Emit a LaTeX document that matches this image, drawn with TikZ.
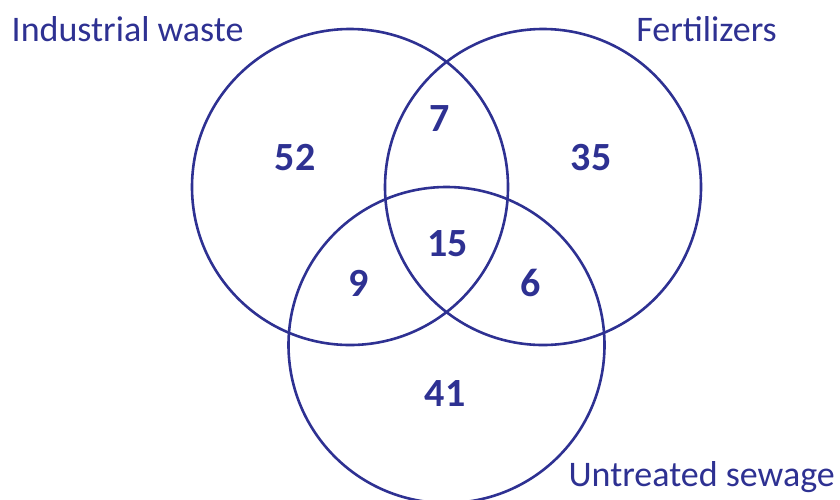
\documentclass[tikz,border=0pt]{standalone}
\usepackage{fontspec}
\setmainfont{Carlito}
\definecolor{venn}{RGB}{46,49,146}
\begin{document}
\begin{tikzpicture}[x=1pt,y=-1pt,
  ring/.style={draw=venn,line width=2.6pt},
  setlabel/.style={text=venn,inner sep=0pt,font=\fontsize{36}{40}\selectfont},
  count/.style={text=venn,inner sep=0pt,anchor=base,font=\fontsize{40}{44}\selectfont\bfseries}]
\useasboundingbox (0,0) rectangle (840,499);
\clip (0,0) rectangle (840,499);
\node[ring,circle,minimum size=316pt,inner sep=0pt] (A) at (350,187) {};
\node[ring,circle,minimum size=316pt,inner sep=0pt] (B) at (543,187) {};
\node[ring,circle,minimum size=316pt,inner sep=0pt] (C) at (446.5,345) {};
\node[setlabel,anchor=base west] (la) at (11.5,41.7) {Industrial waste};
\node[setlabel,anchor=base east] (lb) at (777,41.7) {Fertilizers};
\node[setlabel,anchor=base east] (lc) at (835,486.7) {Untreated sewage};
\node[count] (n52) at (295,170) {52};
\node[count] (n7) at (440,131.7) {7};
\node[count] (n35) at (591,170) {35};
\node[count] (n15) at (447.5,256) {15};
\node[count] (n9) at (358.3,296.7) {9};
\node[count] (n6) at (531,296.7) {6};
\node[count] (n41) at (445,406.7) {41};
\end{tikzpicture}
\end{document}
